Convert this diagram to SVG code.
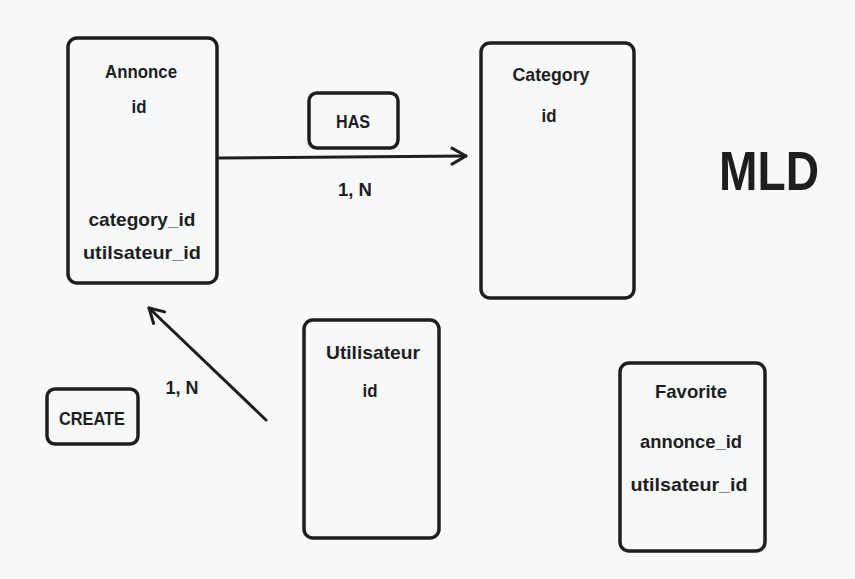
<svg xmlns="http://www.w3.org/2000/svg" width="855" height="579" viewBox="0 0 855 579">
<defs>
<style>
.box{fill:none;stroke:#1e1e1e;stroke-width:3.5;stroke-linejoin:round}
.t{font-family:"Liberation Sans","Noto Sans",sans-serif;font-weight:bold;font-size:19px;fill:#1e1e1e;text-anchor:middle}
.edge{fill:none;stroke:#1e1e1e;stroke-width:3;stroke-linecap:round;stroke-linejoin:round}
</style>
<marker id="ah" viewBox="0 0 20 20" refX="17" refY="10" markerWidth="20" markerHeight="20" markerUnits="userSpaceOnUse" orient="auto">
<path d="M3,2 L17,10 L3,18" fill="none" stroke="#1e1e1e" stroke-width="3" stroke-linecap="round" stroke-linejoin="round"/>
</marker>
</defs>
<rect width="855" height="579" fill="#f7f8fa"/>

<g id="connectors">
<path class="edge" d="M219,158 L466,156" marker-end="url(#ah)"/>
<path class="edge" d="M266,420 L149,308" marker-end="url(#ah)"/>
<text class="t" x="355" y="196" textLength="34" lengthAdjust="spacingAndGlyphs">1, N</text>
<text class="t" x="182" y="394" textLength="33" lengthAdjust="spacingAndGlyphs">1, N</text>
</g>

<g id="annonce">
<rect class="box" x="68" y="38" width="149" height="245" rx="9"/>
<text class="t" x="141" y="78" textLength="72" lengthAdjust="spacingAndGlyphs">Annonce</text>
<text class="t" x="139" y="113" textLength="15" lengthAdjust="spacingAndGlyphs">id</text>
<text class="t" x="142" y="226" textLength="107" lengthAdjust="spacingAndGlyphs">category_id</text>
<text class="t" x="142" y="259" textLength="118" lengthAdjust="spacingAndGlyphs">utilsateur_id</text>
</g>

<g id="has">
<rect class="box" x="309" y="93" width="89" height="55" rx="8"/>
<text class="t" x="353" y="128" textLength="34" lengthAdjust="spacingAndGlyphs">HAS</text>
</g>

<g id="category">
<rect class="box" x="481" y="43" width="153" height="255" rx="9"/>
<text class="t" x="551" y="81" textLength="77" lengthAdjust="spacingAndGlyphs">Category</text>
<text class="t" x="549" y="122" textLength="15" lengthAdjust="spacingAndGlyphs">id</text>
</g>

<g id="mld">
<text x="769" y="190" font-family="Liberation Sans, sans-serif" font-weight="bold" font-size="56" fill="#1e1e1e" text-anchor="middle" textLength="100" lengthAdjust="spacingAndGlyphs">MLD</text>
</g>

<g id="create">
<rect class="box" x="47" y="389" width="91" height="55" rx="8"/>
<text class="t" x="92" y="425" textLength="66" lengthAdjust="spacingAndGlyphs">CREATE</text>
</g>

<g id="utilisateur">
<rect class="box" x="304" y="320" width="135" height="218" rx="9"/>
<text class="t" x="373" y="359" textLength="94" lengthAdjust="spacingAndGlyphs">Utilisateur</text>
<text class="t" x="370" y="397" textLength="15" lengthAdjust="spacingAndGlyphs">id</text>
</g>

<g id="favorite">
<rect class="box" x="620" y="363" width="145" height="188" rx="9"/>
<text class="t" x="691" y="398" textLength="72" lengthAdjust="spacingAndGlyphs">Favorite</text>
<text class="t" x="691" y="448" textLength="102" lengthAdjust="spacingAndGlyphs">annonce_id</text>
<text class="t" x="689" y="491" textLength="117" lengthAdjust="spacingAndGlyphs">utilsateur_id</text>
</g>
</svg>
